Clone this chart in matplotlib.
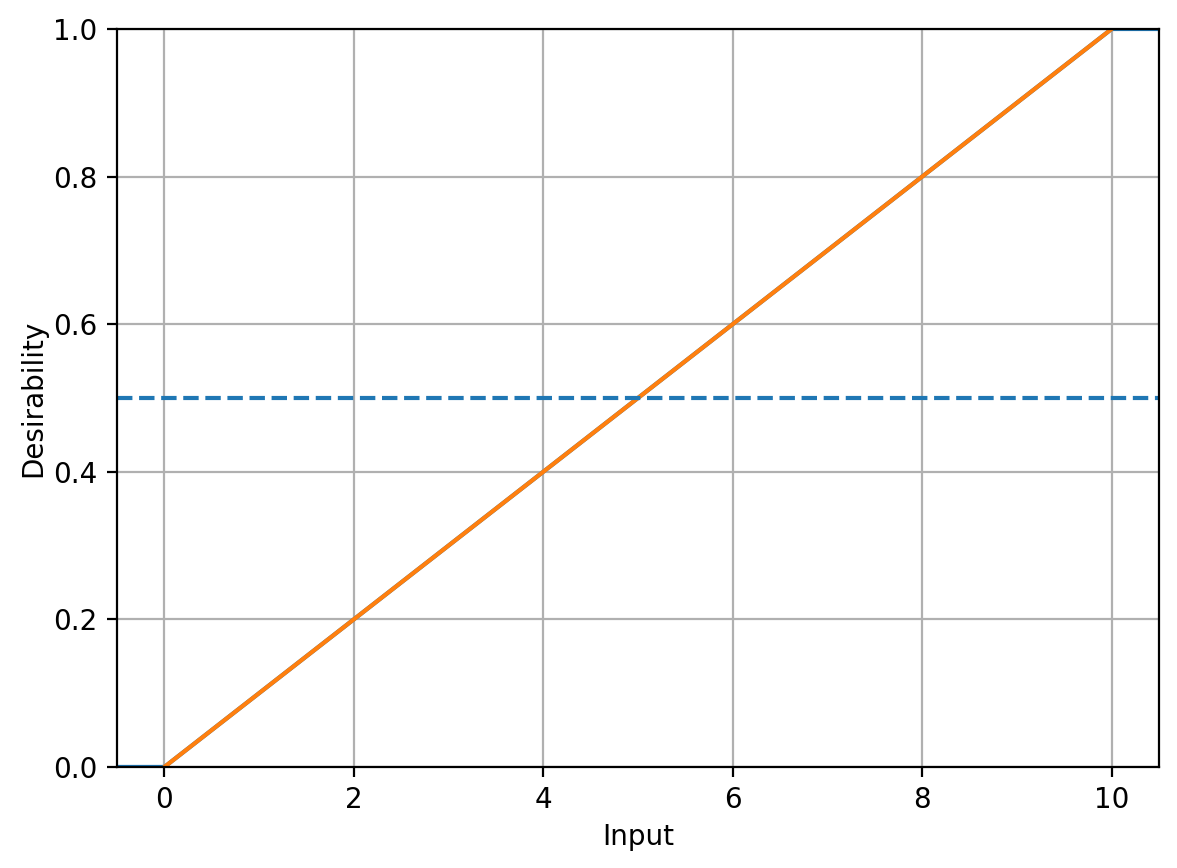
import numpy as np
import matplotlib.pyplot as plt

# desirability function breakpoints
x_full = [-0.5, 0, 10, 10.5]
y_full = [0.0, 0.0, 1.0, 1.0]
x_ramp = [0, 10]
y_ramp = [0.0, 1.0]
threshold = 0.5

fig = plt.figure(figsize=(5.885, 4.34), dpi=200)
ax = fig.add_axes([0.0994, 0.1164, 0.8853, 0.8502])
ax.plot(x_full, y_full, color="C0")
ax.plot(x_ramp, y_ramp, color="C1")
ax.axhline(threshold, color="C0", linestyle="--")
ax.set_xlim(-0.5, 10.5)
ax.set_ylim(0, 1)
ax.set_xlabel("Input", labelpad=3)
ax.set_ylabel("Desirability", labelpad=2.2)
ax.grid(True)
fig.savefig("out.png", dpi=200)
